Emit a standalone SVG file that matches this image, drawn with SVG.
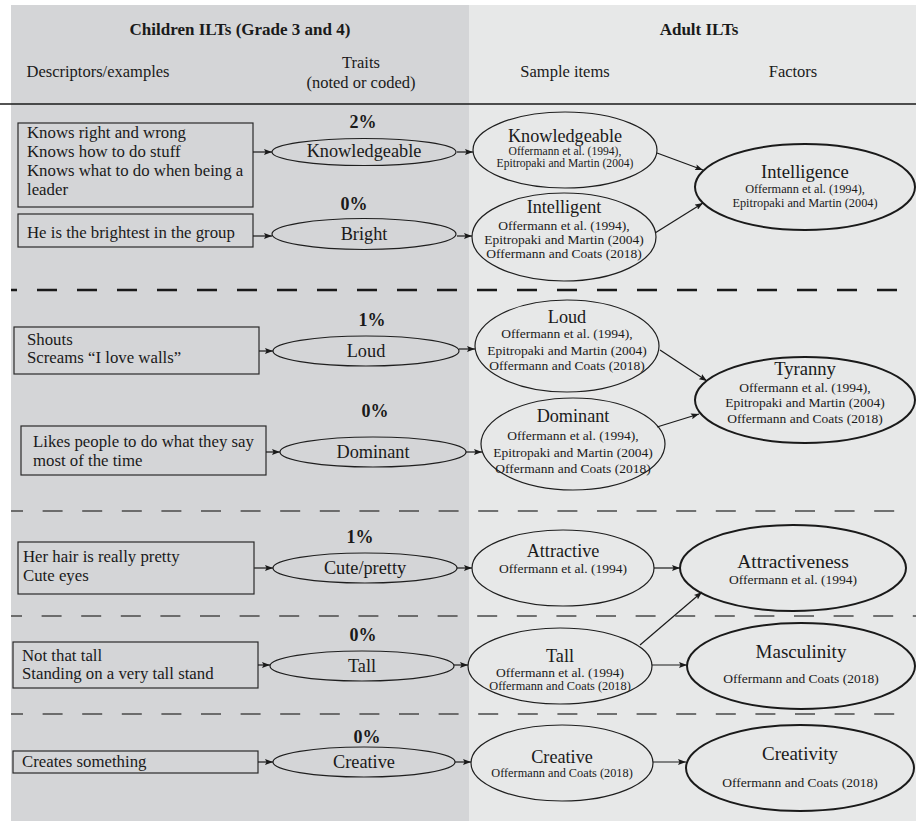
<svg xmlns="http://www.w3.org/2000/svg" width="916" height="821" viewBox="0 0 916 821">
  <defs>
    <marker id="arrow" markerUnits="userSpaceOnUse" markerWidth="8" markerHeight="6" refX="8" refY="3" orient="auto">
      <path d="M0,0 L8,3 L0,6 L1.5,3 z" fill="#1a1a1a"/>
    </marker>
    <style>
      text { font-family: "Liberation Serif", "Times New Roman", serif; fill: #1a1a1a; }
      .title { font-size: 17px; font-weight: bold; text-anchor: middle; }
      .col { font-size: 16.5px; text-anchor: middle; }
      .desc { font-size: 16.8px; }
      .pct { font-size: 18px; font-weight: bold; text-anchor: middle; }
      .trait { font-size: 18.3px; text-anchor: middle; }
      .item { font-size: 18.2px; text-anchor: middle; }
      .cite { font-size: 13.5px; text-anchor: middle; }
      .cite-s { font-size: 11.6px; text-anchor: middle; }
      .cite-m { font-size: 12.3px; text-anchor: middle; }
      .factor { font-size: 18.6px; text-anchor: middle; }
      .box { fill: none; stroke: #2a2a2a; stroke-width: 1.2; }
      .ell { fill: none; stroke: #1f1f1f; stroke-width: 1.2; }
      .ell-f { fill: none; stroke: #1a1a1a; stroke-width: 2; }
      .dash1 { stroke: #1a1a1a; stroke-width: 2.5; stroke-dasharray: 20 20; }
      .dash { stroke: #4a4a4a; stroke-width: 1.6; stroke-dasharray: 20 19.6; }
      .link { stroke: #1a1a1a; stroke-width: 1.2; fill: none; marker-end: url(#arrow); }
    </style>
  </defs>

  <!-- panels -->
  <rect x="11" y="5" width="458" height="816" fill="#d4d5d7"/>
  <rect x="469" y="5" width="447" height="816" fill="#e7e8e8"/>

  <!-- header -->
  <g id="header">
    <text class="title" x="240" y="35">Children ILTs (Grade 3 and 4)</text>
    <text class="title" x="699" y="35">Adult ILTs</text>
    <text class="col" x="98" y="77">Descriptors/examples</text>
    <text class="col" x="361" y="68">Traits</text>
    <text class="col" x="361" y="88">(noted or coded)</text>
    <text class="col" x="565" y="77">Sample items</text>
    <text class="col" x="793" y="77">Factors</text>
    <line x1="0" y1="104" x2="916" y2="104" stroke="#1a1a1a" stroke-width="1.5"/>
  </g>

  <!-- row separators -->
  <g id="separators">
    <line class="dash1" x1="11" y1="290" x2="916" y2="290" stroke-dashoffset="14"/>
    <line class="dash" x1="11" y1="511" x2="900" y2="511" stroke-dashoffset="8"/>
    <line class="dash" x1="11" y1="616" x2="916" y2="616" stroke-dashoffset="9"/>
    <line class="dash" x1="11" y1="714" x2="905" y2="714" stroke-dashoffset="8"/>
  </g>

  <!-- Intelligence block -->
  <g id="desc-knowledgeable">
    <rect class="box" x="18" y="123" width="235" height="84"/>
    <text class="desc" x="27" y="138">Knows right and wrong</text>
    <text class="desc" x="27" y="157">Knows how to do stuff</text>
    <text class="desc" x="27" y="176">Knows what to do when being a</text>
    <text class="desc" x="27" y="195">leader</text>
  </g>
  <g id="trait-knowledgeable">
    <text class="pct" x="363" y="128">2%</text>
    <ellipse class="ell" cx="364" cy="152" rx="92" ry="13.5"/>
    <text class="trait" x="364" y="157">Knowledgeable</text>
  </g>
  <g id="desc-bright">
    <rect class="box" x="18" y="214" width="235" height="33"/>
    <text class="desc" x="27" y="238">He is the brightest in the group</text>
  </g>
  <g id="trait-bright">
    <text class="pct" x="354" y="210">0%</text>
    <ellipse class="ell" cx="364" cy="234" rx="92" ry="15.5"/>
    <text class="trait" x="364" y="240">Bright</text>
  </g>
  <g id="item-knowledgeable">
    <ellipse class="ell" cx="565" cy="150" rx="92" ry="38"/>
    <text class="item" x="565" y="142">Knowledgeable</text>
    <text class="cite-s" x="565" y="155">Offermann et al. (1994),</text>
    <text class="cite-s" x="565" y="167">Epitropaki and Martin (2004)</text>
  </g>
  <g id="item-intelligent">
    <ellipse class="ell" cx="564" cy="237" rx="92" ry="44"/>
    <text class="item" x="564" y="213">Intelligent</text>
    <text class="cite" x="564" y="230">Offermann et al. (1994),</text>
    <text class="cite" x="564" y="244">Epitropaki and Martin (2004)</text>
    <text class="cite" x="564" y="258">Offermann and Coats (2018)</text>
  </g>
  <g id="factor-intelligence">
    <ellipse class="ell-f" cx="805" cy="187" rx="110" ry="43"/>
    <text class="factor" x="805" y="178">Intelligence</text>
    <text class="cite-m" x="805" y="193">Offermann et al. (1994),</text>
    <text class="cite-m" x="805" y="207">Epitropaki and Martin (2004)</text>
  </g>

  <!-- Tyranny block -->
  <g id="desc-loud">
    <rect class="box" x="14" y="327" width="245" height="47"/>
    <text class="desc" x="27" y="345">Shouts</text>
    <text class="desc" x="27" y="363">Screams “I love walls”</text>
  </g>
  <g id="trait-loud">
    <text class="pct" x="372" y="326">1%</text>
    <ellipse class="ell" cx="366" cy="351" rx="93" ry="15"/>
    <text class="trait" x="366" y="357">Loud</text>
  </g>
  <g id="desc-dominant">
    <rect class="box" x="21" y="426" width="245" height="49"/>
    <text class="desc" x="33" y="447">Likes people to do what they say</text>
    <text class="desc" x="33" y="466">most of the time</text>
  </g>
  <g id="trait-dominant">
    <text class="pct" x="375" y="417">0%</text>
    <ellipse class="ell" cx="373" cy="452" rx="93" ry="15"/>
    <text class="trait" x="373" y="458">Dominant</text>
  </g>
  <g id="item-loud">
    <ellipse class="ell" cx="567" cy="346" rx="92" ry="46"/>
    <text class="item" x="567" y="323">Loud</text>
    <text class="cite" x="567" y="338">Offermann et al. (1994),</text>
    <text class="cite" x="567" y="355">Epitropaki and Martin (2004)</text>
    <text class="cite" x="567" y="370">Offermann and Coats (2018)</text>
  </g>
  <g id="item-dominant">
    <ellipse class="ell" cx="573" cy="444" rx="92" ry="46"/>
    <text class="item" x="573" y="422">Dominant</text>
    <text class="cite" x="573" y="440">Offermann et al. (1994),</text>
    <text class="cite" x="573" y="457">Epitropaki and Martin (2004)</text>
    <text class="cite" x="573" y="473">Offermann and Coats (2018)</text>
  </g>
  <g id="factor-tyranny">
    <ellipse class="ell-f" cx="805" cy="400" rx="110" ry="43"/>
    <text class="factor" x="805" y="375">Tyranny</text>
    <text class="cite" x="805" y="392">Offermann et al. (1994),</text>
    <text class="cite" x="805" y="407">Epitropaki and Martin (2004)</text>
    <text class="cite" x="805" y="423">Offermann and Coats (2018)</text>
  </g>

  <!-- Attractiveness block -->
  <g id="desc-cute">
    <rect class="box" x="18" y="542" width="236" height="52"/>
    <text class="desc" x="23" y="562">Her hair is really pretty</text>
    <text class="desc" x="23" y="581">Cute eyes</text>
  </g>
  <g id="trait-cute">
    <text class="pct" x="360" y="543">1%</text>
    <ellipse class="ell" cx="365" cy="568" rx="92" ry="15"/>
    <text class="trait" x="365" y="574">Cute/pretty</text>
  </g>
  <g id="item-attractive">
    <ellipse class="ell" cx="563" cy="568" rx="91" ry="38"/>
    <text class="item" x="563" y="557">Attractive</text>
    <text class="cite" x="563" y="573">Offermann et al. (1994)</text>
  </g>
  <g id="factor-attractiveness">
    <ellipse class="ell-f" cx="793" cy="568" rx="113" ry="43"/>
    <text class="factor" x="793" y="568" style="font-size:19.5px">Attractiveness</text>
    <text class="cite" x="793" y="584">Offermann et al. (1994)</text>
  </g>

  <!-- Masculinity block -->
  <g id="desc-tall">
    <rect class="box" x="13" y="642" width="245" height="46"/>
    <text class="desc" x="22" y="661">Not that tall</text>
    <text class="desc" x="22" y="679">Standing on a very tall stand</text>
  </g>
  <g id="trait-tall">
    <text class="pct" x="363" y="641">0%</text>
    <ellipse class="ell" cx="362" cy="666" rx="92" ry="15"/>
    <text class="trait" x="362" y="672">Tall</text>
  </g>
  <g id="item-tall">
    <ellipse class="ell" cx="560" cy="666" rx="92" ry="38"/>
    <text class="item" x="560" y="662">Tall</text>
    <text class="cite" x="560" y="677">Offermann et al. (1994)</text>
    <text class="cite-m" x="560" y="690">Offermann and Coats (2018)</text>
  </g>
  <g id="factor-masculinity">
    <ellipse class="ell-f" cx="801" cy="666" rx="114" ry="43"/>
    <text class="factor" x="801" y="658" style="font-size:19px">Masculinity</text>
    <text class="cite" x="801" y="683">Offermann and Coats (2018)</text>
  </g>

  <!-- Creativity block -->
  <g id="desc-creates">
    <rect class="box" x="13" y="751" width="245" height="22"/>
    <text class="desc" x="22" y="767">Creates something</text>
  </g>
  <g id="trait-creative">
    <text class="pct" x="367" y="743">0%</text>
    <ellipse class="ell" cx="364" cy="762" rx="91" ry="15"/>
    <text class="trait" x="364" y="768">Creative</text>
  </g>
  <g id="item-creative">
    <ellipse class="ell" cx="562" cy="763" rx="91" ry="38"/>
    <text class="item" x="562" y="763">Creative</text>
    <text class="cite-m" x="562" y="777">Offermann and Coats (2018)</text>
  </g>
  <g id="factor-creativity">
    <ellipse class="ell-f" cx="800" cy="768" rx="114" ry="43"/>
    <text class="factor" x="800" y="760" style="font-size:19px">Creativity</text>
    <text class="cite" x="800" y="787">Offermann and Coats (2018)</text>
  </g>

  <!-- connectors -->
  <g id="connectors">
    <line class="link" x1="253" y1="152" x2="272" y2="152"/>
    <line class="link" x1="457" y1="152" x2="473" y2="152"/>
    <line class="link" x1="253" y1="236" x2="272" y2="236"/>
    <line class="link" x1="457" y1="236" x2="472" y2="236"/>
    <line class="link" x1="657" y1="153" x2="703" y2="170"/>
    <line class="link" x1="655" y1="233" x2="703" y2="203"/>

    <line class="link" x1="259" y1="351" x2="273" y2="351"/>
    <line class="link" x1="459" y1="349" x2="475" y2="349"/>
    <line class="link" x1="266" y1="452" x2="280" y2="452"/>
    <line class="link" x1="466" y1="452" x2="482" y2="452"/>
    <line class="link" x1="660" y1="350" x2="707" y2="381"/>
    <line class="link" x1="657" y1="427" x2="699" y2="414"/>

    <line class="link" x1="254" y1="568" x2="273" y2="568"/>
    <line class="link" x1="457" y1="568" x2="472" y2="568"/>
    <line class="link" x1="654" y1="568" x2="680" y2="568"/>

    <line class="link" x1="258" y1="665" x2="270" y2="665"/>
    <line class="link" x1="454" y1="665" x2="468" y2="665"/>
    <line class="link" x1="652" y1="665" x2="687" y2="665"/>
    <line class="link" x1="640" y1="645" x2="702" y2="592"/>

    <line class="link" x1="258" y1="762" x2="273" y2="762"/>
    <line class="link" x1="455" y1="762" x2="471" y2="762"/>
    <line class="link" x1="653" y1="762" x2="686" y2="762"/>
  </g>
</svg>
